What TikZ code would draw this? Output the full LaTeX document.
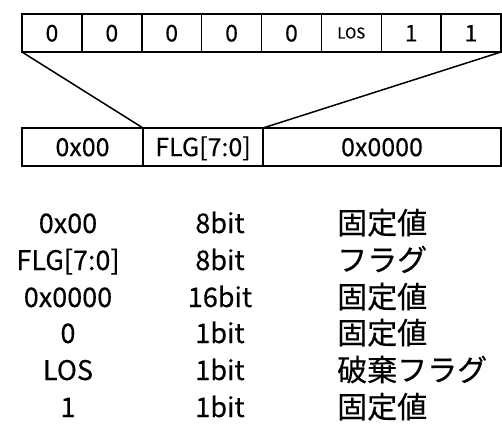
\documentclass[tikz,border=0pt]{standalone}
\usepackage{fontspec}
\setmainfont{Noto Sans CJK JP}[FakeBold=0.35]
\begin{document}
\begin{tikzpicture}[x=1pt,y=-1pt,
  cell/.style={draw, line width=1.5pt, minimum height=38pt, inner sep=0pt, outer sep=0pt,
    anchor=center, text depth=0pt},
  topfont/.style={font=\fontsize{23pt}{23pt}\selectfont, text height=16.9pt},
  smallfont/.style={font=\fontsize{15pt}{15pt}\selectfont, text height=11pt},
  botfont/.style={font=\fontsize{25pt}{25pt}\selectfont, text height=18.3pt},
  tab/.style={font=\fontsize{27pt}{27pt}\selectfont, inner sep=0pt, anchor=base},
  tabl/.style={font=\fontsize{30pt}{30pt}\selectfont, inner sep=0pt, anchor=base west},
  link/.style={line width=1.5pt}]
\useasboundingbox (0,0) rectangle (502,425);
% top byte
\foreach \i/\t in {1/0,2/0,3/0,4/0,5/0,7/1,8/1}
  \node[cell, topfont, minimum width=59.875pt] (t\i) at ({22+59.875*(\i-0.5)},33) {\t};
\node[cell, smallfont, minimum width=59.875pt] (t6) at ({22+59.875*5.5},33) {LOS};
% bottom word
\node[cell, botfont, minimum width=121pt] (b1) at (82.5,147) {0x00};
\node[cell, botfont, minimum width=120pt] (b2) at (203,147) {FLG[7:0]};
\node[cell, botfont, minimum width=238pt] (b3) at (382,147) {0x0000};
% expansion lines
\draw[link] (t1.south west) -- (b2.north west);
\draw[link] (t8.south east) -- (b3.north west);
% table
\node[tab] (n1) at (68,233) {0x00};
\node[tab] (n2) at (68,270) {FLG[7:0]};
\node[tab] (n3) at (68,307) {0x0000};
\node[tab] (n4) at (68,343) {0};
\node[tab] (n5) at (68,380) {LOS};
\node[tab] (n6) at (68,417) {1};
\node[tab] (w1) at (220,233) {8bit};
\node[tab] (w2) at (220,270) {8bit};
\node[tab] (w3) at (220,307) {16bit};
\node[tab] (w4) at (220,343) {1bit};
\node[tab] (w5) at (220,380) {1bit};
\node[tab] (w6) at (220,417) {1bit};
\node[tabl] (d1) at (337,234) {固定値};
\node[tabl] (d2) at (337,271) {フラグ};
\node[tabl] (d3) at (337,308) {固定値};
\node[tabl] (d4) at (337,344) {固定値};
\node[tabl] (d5) at (337,381) {破棄フラグ};
\node[tabl] (d6) at (337,418) {固定値};
\end{tikzpicture}
\end{document}
